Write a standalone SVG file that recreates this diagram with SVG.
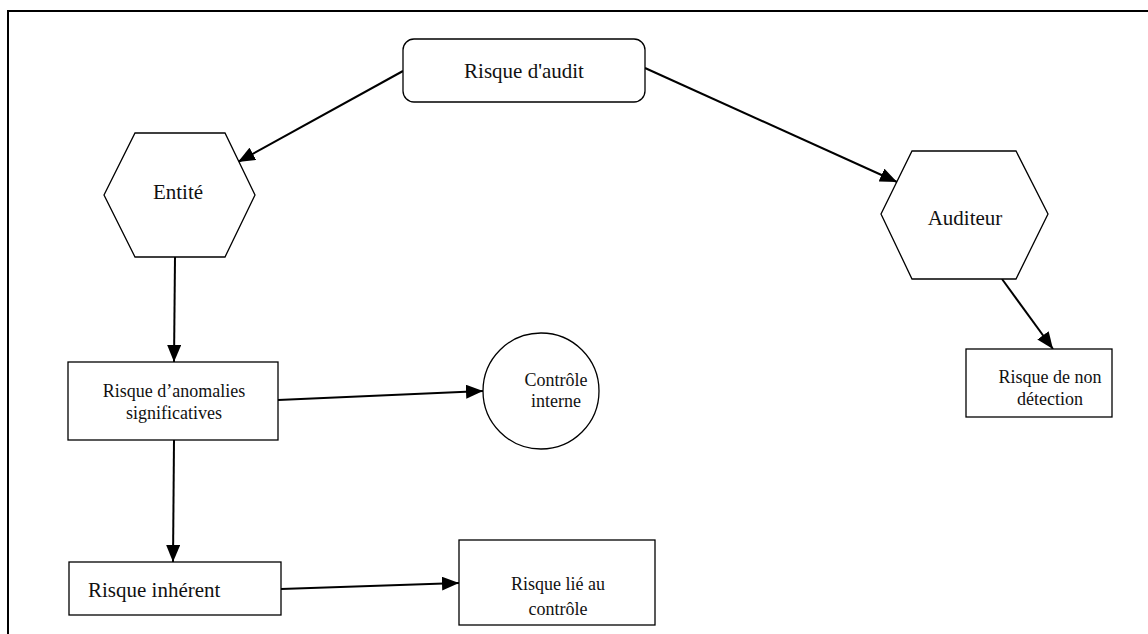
<svg xmlns="http://www.w3.org/2000/svg" width="1148" height="634" viewBox="0 0 1148 634">
  <style>
    .shape { fill: #ffffff; stroke: #000000; stroke-width: 1.3; }
    .frame { fill: none; stroke: #000000; stroke-width: 2; }
    .link { fill: none; stroke: #000000; stroke-width: 2; marker-end: url(#arrow); }
    .lbl { font-family: "Liberation Serif", "Times New Roman", serif; fill: #111111; text-anchor: middle; }
    .big { font-size: 21px; }
    .small { font-size: 18px; }
  </style>
  <defs>
    <marker id="arrow" markerUnits="userSpaceOnUse" markerWidth="17" markerHeight="14" refX="17" refY="7" orient="auto">
      <path d="M0,0 L17,7 L0,14 Z" fill="#000000"/>
    </marker>
  </defs>

  <rect x="0" y="0" width="1148" height="634" fill="#ffffff"/>
  <!-- page border: top and left edges -->
  <path class="frame" d="M8,634 L8,11 L1148,11"/>

  <g id="connectors">
    <line class="link" x1="403" y1="71" x2="238" y2="162"/>
    <line class="link" x1="645" y1="68" x2="897" y2="182"/>
    <line class="link" x1="175" y1="257" x2="174" y2="362"/>
    <line class="link" x1="278" y1="400" x2="483" y2="391"/>
    <line class="link" x1="1002" y1="279" x2="1053" y2="349"/>
    <line class="link" x1="174" y1="440" x2="173" y2="562"/>
    <line class="link" x1="281" y1="589" x2="459" y2="583"/>
  </g>

  <g id="risque-audit">
    <rect class="shape" x="403" y="39" width="242" height="63" rx="11" ry="11"/>
    <text class="lbl big" x="524" y="78">Risque d'audit</text>
  </g>

  <g id="entite">
    <polygon class="shape" points="104,195 135,133 225,133 255,195 225,257 135,257"/>
    <text class="lbl big" x="178" y="199">Entité</text>
  </g>

  <g id="auditeur">
    <polygon class="shape" points="881,214 912,151 1016,151 1048,214 1016,279 912,279"/>
    <text class="lbl big" x="965" y="225">Auditeur</text>
  </g>

  <g id="risque-anomalies">
    <rect class="shape" x="68" y="362" width="210" height="78"/>
    <text class="lbl small" x="174" y="397">Risque d’anomalies</text>
    <text class="lbl small" x="174" y="419">significatives</text>
  </g>

  <g id="controle-interne">
    <circle class="shape" cx="541" cy="391" r="58"/>
    <text class="lbl small" x="556" y="386">Contrôle</text>
    <text class="lbl small" x="556" y="407">interne</text>
  </g>

  <g id="risque-non-detection">
    <rect class="shape" x="966" y="349" width="146" height="68"/>
    <text class="lbl small" x="1050" y="383">Risque de non</text>
    <text class="lbl small" x="1050" y="405">détection</text>
  </g>

  <g id="risque-inherent">
    <rect class="shape" x="69" y="562" width="212" height="53"/>
    <text class="lbl big" x="88" y="597" style="text-anchor:start">Risque inhérent</text>
  </g>

  <g id="risque-lie-controle">
    <rect class="shape" x="459" y="540" width="196" height="85"/>
    <text class="lbl small" x="558" y="590">Risque lié au</text>
    <text class="lbl small" x="558" y="615">contrôle</text>
  </g>
</svg>
